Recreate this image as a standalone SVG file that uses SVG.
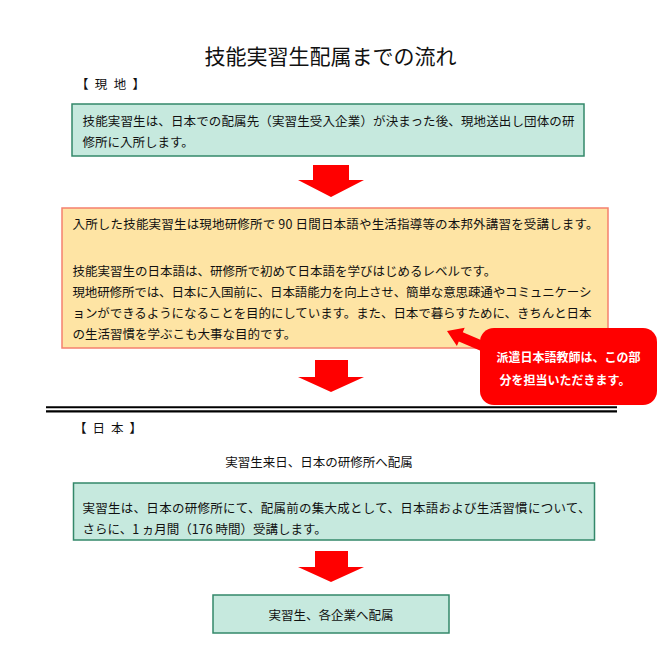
<svg xmlns="http://www.w3.org/2000/svg" width="660" height="660" viewBox="0 0 660 660">
<style>
text{font-family:"Noto Sans CJK JP","Noto Sans",sans-serif;fill:#111}
.t{font-size:12.5px}
.g{fill:#c6e9de;stroke:#33886a;stroke-width:1.5}
.o{fill:#fee4a4;stroke:#f5806e;stroke-width:1.5}
.red{fill:#ff0000}
.w{fill:#ffffff;font-weight:bold;font-size:12px}
</style>
<rect width="660" height="660" fill="#ffffff"/>
<text x="330.5" y="64" font-size="21" text-anchor="middle">技能実習生配属までの流れ</text>
<text x="76" y="89" class="t" font-size="12" textLength="69" lengthAdjust="spacing">【 現 地 】</text>

<g id="box1">
<rect class="g" x="72" y="104" width="512" height="52"/>
<text class="t" x="82.5" y="126" textLength="492" lengthAdjust="spacing">技能実習生は、日本での配属先（実習生受入企業）が決まった後、現地送出し団体の研</text>
<text class="t" x="82.5" y="147">修所に入所します。</text>
</g>

<g id="box2">
<rect class="o" x="62" y="208" width="546" height="140"/>
<text class="t" x="72.5" y="229" textLength="526" lengthAdjust="spacing">入所した技能実習生は現地研修所で 90 日間日本語や生活指導等の本邦外講習を受講します。</text>
<text class="t" x="72.5" y="276">技能実習生の日本語は、研修所で初めて日本語を学びはじめるレベルです。</text>
<text class="t" x="72.5" y="297" textLength="519" lengthAdjust="spacing">現地研修所では、日本に入国前に、日本語能力を向上させ、簡単な意思疎通やコミュニケーシ</text>
<text class="t" x="72.5" y="318" textLength="519" lengthAdjust="spacing">ョンができるようになることを目的にしています。また、日本で暮らすために、きちんと日本</text>
<text class="t" x="72.5" y="339">の生活習慣を学ぶこも大事な目的です。</text>
</g>

<g id="divider">
<line x1="46" y1="407.3" x2="617" y2="407.3" stroke="#000" stroke-width="2"/>
<line x1="46" y1="411.3" x2="617" y2="411.3" stroke="#000" stroke-width="2.2"/>
</g>

<g id="callout">
<polygon class="red" points="447,331 464.7,327.7 462.8,332.3 490.4,344.1 486.4,353.3 458.8,341.5 456.9,346.1"/>
<rect class="red" x="480" y="328" width="177" height="77" rx="14"/>
<text class="w" x="568.5" y="362" text-anchor="middle">派遣日本語教師は、この部</text>
<text class="w" x="565" y="385" text-anchor="middle">分を担当いただきます。</text>
</g>

<text x="74" y="433" class="t" font-size="12" textLength="68" lengthAdjust="spacing">【 日 本 】</text>
<g id="label-arrival">
<text class="t" x="319" y="467" text-anchor="middle">実習生来日、日本の研修所へ配属</text>
</g>

<g id="box3">
<rect class="g" x="73.5" y="483" width="521" height="57"/>
<text class="t" x="82.5" y="513" textLength="508" lengthAdjust="spacing">実習生は、日本の研修所にて、配属前の集大成として、日本語および生活習慣について、</text>
<text class="t" x="82.5" y="534">さらに、1 ヵ月間（176 時間）受講します。</text>
</g>

<g id="box4">
<rect class="g" x="213" y="595" width="236" height="38"/>
<text class="t" x="331" y="620" text-anchor="middle">実習生、各企業へ配属</text>
</g>

<g id="connectors">
<polygon class="red" points="313,165 349,165 349,180 364,180 331,197 298,180 313,180"/>
<polygon class="red" points="315,360 348,360 348,377 364,377 331,392 298,377 315,377"/>
<polygon class="red" points="315,551 348,551 348,567 364,567 331,582 298,567 315,567"/>
</g>
</svg>
